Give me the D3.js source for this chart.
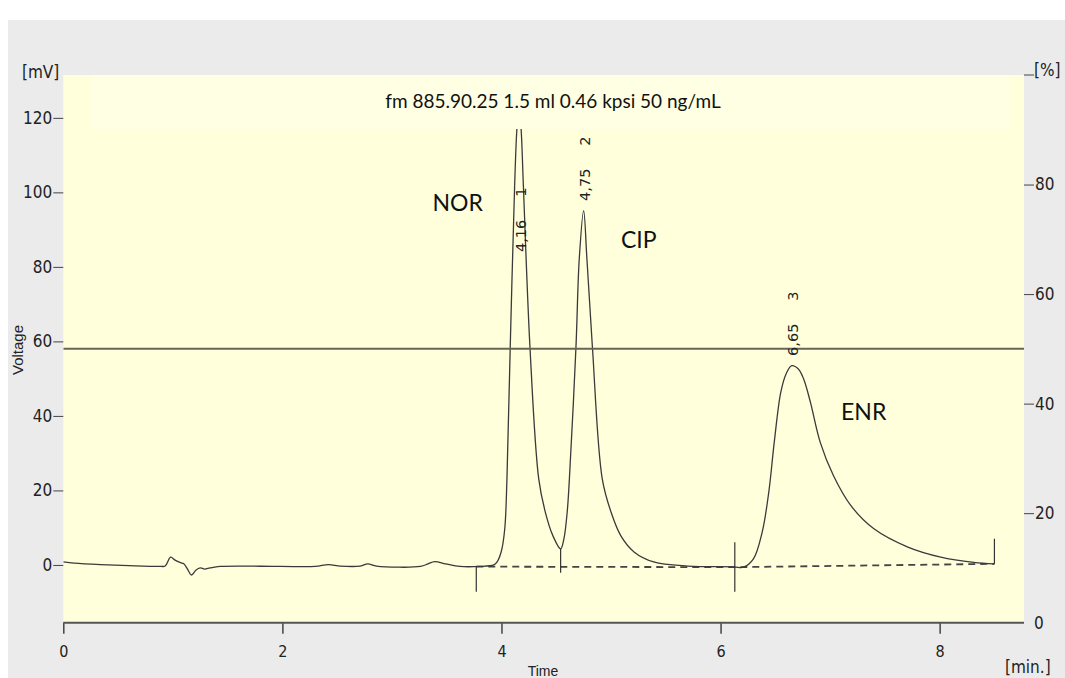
<!DOCTYPE html>
<html>
<head>
<meta charset="utf-8">
<script src="https://cdn.jsdelivr.net/npm/d3@7"></script>
<style>
  body { margin: 0; background: #fff; }
  svg { display: block; }
  .tick text { font-family: "Liberation Sans Narrow", "DejaVu Sans Condensed", sans-serif; fill: #222; }
  .tick line { stroke: #444; }
</style>
</head>
<body>
<svg id="chart"></svg>
<script>
// chromatogram trace, time [min] / voltage [mV]
const signalTime = [0.00, 0.10, 0.34, 0.60, 0.89, 0.93, 0.98, 1.02, 1.07, 1.10, 1.13, 1.17, 1.21, 1.25, 1.29, 1.34, 1.43,
  1.98, 2.30, 2.42, 2.53, 2.71, 2.78, 2.86, 3.26, 3.33, 3.39, 3.49, 3.62, 3.80, 3.93, 3.96, 4.00, 4.03, 4.05, 4.08,
  4.12, 4.14, 4.16, 4.18, 4.20, 4.26, 4.34, 4.40, 4.47, 4.54, 4.57, 4.60, 4.62, 4.68, 4.71, 4.75, 4.78, 4.83, 4.92,
  5.00, 5.09, 5.21, 5.39, 5.70, 6.12, 6.21, 6.30, 6.38, 6.44, 6.49, 6.55, 6.60, 6.65, 6.71, 6.76, 6.82, 6.91, 7.03,
  7.19, 7.40, 7.71, 8.01, 8.31, 8.50];
const signalMv = [0.8, 0.5, 0.1, -0.2, -0.4, -0.3, 2.1, 1.3, 0.6, 0.3, -0.9, -2.7, -1.4, -0.8, -1.1, -0.8, -0.4,
  -0.4, -0.4, 0.1, -0.3, -0.3, 0.3, -0.3, -0.4, 0.3, 0.9, 0.3, -0.4, -0.4, 0.0, 0.8, 3.8, 9.7, 23.1, 58.5,
  101.7, 116.6, 123.5, 116.6, 101.7, 58.5, 23.1, 14.2, 7.8, 4.3, 7.0, 14.2, 23.1, 58.5, 82.1, 95.1, 82.1, 58.5, 23.1,
  14.2, 7.8, 3.5, 0.8, -0.3, -0.5, -0.6, 1.6, 8.8, 19.5, 32.9, 46.4, 51.4, 53.5, 52.6, 49.8, 43.7, 32.9, 24.0,
  15.9, 9.7, 4.8, 2.1, 0.7, 0.3];

// integration baseline and peak delimiters
const baselineTime = [3.77, 6.13, 8.50];
const baselineMv = [-0.45, -0.6, 0.3];
const markerTime = [3.77, 4.54, 6.13, 8.50];
const markerTopMv = [-0.45, 4.3, 6.1, 7.0];
const markerBottomMv = [-7.2, -2.1, -7.2, 0.3];

// peak annotations
const peakIds = ['1', '2', '3'];
const peakRtText = ['4,16', '4,75', '6,65'];
const peakRt = [4.16, 4.75, 6.65];
const peakLabelMv = [84, 97.7, 56.1];

const compoundNames = ['NOR', 'CIP', 'ENR'];
const compoundTime = [3.37, 5.09, 7.10];
const compoundMv = [95, 85, 39];

const xTicks = [0, 2, 4, 6, 8];
const leftTicks = [0, 20, 40, 60, 80, 100, 120];
const rightTicks = [20, 40, 60, 80];
const thresholdPct = 50;
const title = 'fm 885.90.25 1.5 ml 0.46 kpsi 50 ng/mL';

const width = 1065, height = 678;
const plot = { left: 63.3, right: 1024, top: 75, bottom: 622.7 };

const svg = d3.select('#chart').attr('width', width).attr('height', height);

const x = d3.scaleLinear().domain([0, 8.77]).range([plot.left, plot.right]);
const y = d3.scaleLinear().domain([-15.5, 131.5]).range([plot.bottom, plot.top]);
const yPct = d3.scaleLinear().domain([0, 100]).range([plot.bottom, plot.top]);

// backgrounds
svg.append('rect').attr('x', 8).attr('y', 20).attr('width', width - 8).attr('height', height - 20).attr('fill', '#ebebeb');
svg.append('rect')
  .attr('x', plot.left).attr('y', plot.top)
  .attr('width', plot.right - plot.left).attr('height', plot.bottom - plot.top)
  .attr('fill', '#ffffdc');

svg.append('clipPath').attr('id', 'plotclip')
  .append('rect')
  .attr('x', plot.left).attr('y', plot.top)
  .attr('width', plot.right - plot.left).attr('height', plot.bottom - plot.top);

const g = svg.append('g').attr('clip-path', 'url(#plotclip)');

// baseline (dashed)
const baseLine = d3.line().x(i => x(baselineTime[i])).y(i => y(baselineMv[i]));
g.append('path')
  .attr('d', baseLine(d3.range(baselineTime.length)))
  .attr('fill', 'none').attr('stroke', '#444').attr('stroke-width', 1.8).attr('stroke-dasharray', '7,5');

// signal
const trace = d3.line()
  .x(i => x(signalTime[i]))
  .y(i => y(signalMv[i]))
  .curve(d3.curveCatmullRom.alpha(0.5));
g.append('path')
  .attr('d', trace(d3.range(signalTime.length)))
  .attr('fill', 'none').attr('stroke', '#3a3a3a').attr('stroke-width', 1.3);

// peak delimiters
g.selectAll('.marker')
  .data(markerTime)
  .enter()
  .append('line')
    .attr('class', 'marker')
    .attr('x1', d => x(d)).attr('x2', d => x(d))
    .attr('y1', (d, i) => y(markerTopMv[i]))
    .attr('y2', (d, i) => y(markerBottomMv[i]))
    .attr('stroke', '#333').attr('stroke-width', 1.2);

// threshold line
g.append('line')
  .attr('x1', plot.left).attr('x2', plot.right)
  .attr('y1', yPct(thresholdPct)).attr('y2', yPct(thresholdPct))
  .attr('stroke', '#666656').attr('stroke-width', 2);

// title box
svg.append('rect')
  .attr('x', 92).attr('y', plot.top).attr('width', 918).attr('height', 54)
  .attr('fill', '#ffffe4');
svg.append('text')
  .attr('x', 553).attr('y', 108)
  .attr('text-anchor', 'middle')
  .style('font-family', 'Lato, "Open Sans", sans-serif')
  .style('font-size', '19px')
  .attr('fill', '#111')
  .text(title);

// peak labels (rotated)
const peakLabels = svg.selectAll('.peaklabel')
  .data(peakRt)
  .enter()
  .append('text')
    .attr('class', 'peaklabel')
    .attr('transform', (d, i) => `translate(${x(d) + 1.5},${y(peakLabelMv[i])}) rotate(-90)`)
    .attr('dy', '0.35em')
    .style('font-family', '"DejaVu Sans", Verdana, sans-serif')
    .style('font-size', '14.5px')
    .attr('fill', '#222');
peakLabels.append('tspan').text((d, i) => peakRtText[i]);
peakLabels.append('tspan').attr('dx', 23).text((d, i) => peakIds[i]);

// compound names
svg.selectAll('.compound')
  .data(compoundNames)
  .enter()
  .append('text')
    .attr('class', 'compound')
    .attr('x', (d, i) => x(compoundTime[i]))
    .attr('y', (d, i) => y(compoundMv[i]))
    .style('font-family', 'Lato, "Open Sans", sans-serif')
    .style('font-size', '23px')
    .attr('fill', '#111')
    .text(d => d);

// axes
const xAxis = svg.append('g')
  .attr('transform', `translate(0,${plot.bottom})`)
  .call(d3.axisBottom(x).tickValues(xTicks).tickSize(11).tickPadding(12).tickFormat(d3.format('d')));
xAxis.select('.domain').remove();
xAxis.selectAll('.tick text').style('font-size', '16px');
xAxis.selectAll('.tick line').attr('stroke-width', 1.5);
svg.append('line')
  .attr('x1', plot.left).attr('x2', plot.right)
  .attr('y1', plot.bottom).attr('y2', plot.bottom)
  .attr('stroke', '#555').attr('stroke-width', 2);

const yAxisL = svg.append('g')
  .attr('transform', `translate(${plot.left},0)`)
  .call(d3.axisLeft(y).tickValues(leftTicks).tickSize(10).tickPadding(1));
yAxisL.select('.domain').remove();
yAxisL.selectAll('.tick text').style('font-size', '17px');

const yAxisR = svg.append('g')
  .attr('transform', `translate(${plot.right},0)`)
  .call(d3.axisRight(yPct).tickValues(rightTicks).tickSize(10).tickPadding(1));
yAxisR.select('.domain').remove();
yAxisR.selectAll('.tick text').style('font-size', '17px');

const unitFont = '"Liberation Sans Narrow", "DejaVu Sans Condensed", sans-serif';

// top right tick with [%] and zero label
svg.append('line')
  .attr('x1', plot.right).attr('x2', plot.right + 10)
  .attr('y1', yPct(100)).attr('y2', yPct(100))
  .attr('stroke', '#444');
svg.append('text')
  .attr('x', plot.right + 10).attr('y', yPct(100) + 1)
  .style('font-family', unitFont).style('font-size', '17px').attr('fill', '#222')
  .text('[%]');
svg.append('text')
  .attr('x', plot.right + 10).attr('y', yPct(0) + 6)
  .style('font-family', unitFont).style('font-size', '17px').attr('fill', '#222')
  .text('0');

svg.append('text')
  .attr('x', 22).attr('y', 78)
  .style('font-family', unitFont).style('font-size', '17px').attr('fill', '#222')
  .text('[mV]');

svg.append('text')
  .attr('x', 1005).attr('y', 673)
  .style('font-family', unitFont).style('font-size', '17px').attr('fill', '#222')
  .text('[min.]');

svg.append('text')
  .attr('transform', 'translate(23,350) rotate(-90)')
  .attr('text-anchor', 'middle')
  .style('font-family', '"Liberation Sans", sans-serif').style('font-size', '15px').attr('fill', '#222')
  .text('Voltage');

svg.append('text')
  .attr('x', 543).attr('y', 676)
  .attr('text-anchor', 'middle')
  .style('font-family', '"Liberation Sans", sans-serif').style('font-size', '14px').attr('fill', '#222')
  .text('Time');
</script>
</body>
</html>
